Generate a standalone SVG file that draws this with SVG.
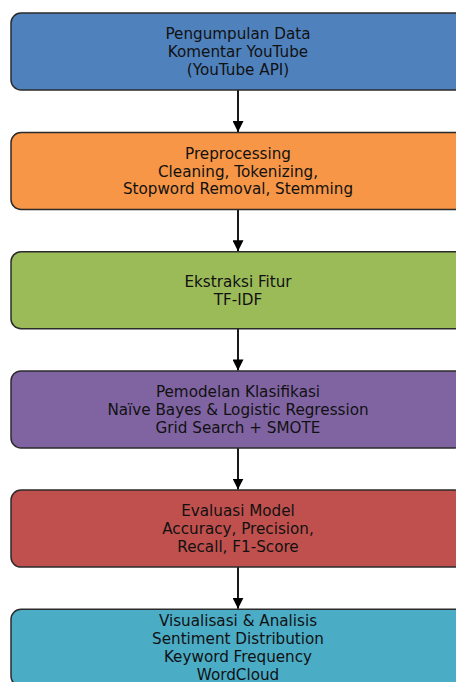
<svg xmlns="http://www.w3.org/2000/svg" width="456" height="682" viewBox="0 0 456 682">
<style>
.box{stroke:#2b2b2b;stroke-width:1.5}
.t{font-family:"DejaVu Sans",sans-serif;font-size:15.2px;fill:#111;text-anchor:middle}
.c{stroke:#000;stroke-width:1.8;fill:none}
</style>
<defs>
<marker id="ah" markerUnits="userSpaceOnUse" markerWidth="12" markerHeight="11" refX="11" refY="5.5" orient="auto">
<path d="M0,0 L11,5.5 L0,11 Z" fill="#000"/>
</marker>
</defs>
<rect width="456" height="682" fill="#fff"/>
<g id="connectors">
<line class="c" x1="238" y1="90" x2="238" y2="132" marker-end="url(#ah)"/>
<line class="c" x1="238" y1="209.5" x2="238" y2="251.2" marker-end="url(#ah)"/>
<line class="c" x1="238" y1="328.7" x2="238" y2="370.4" marker-end="url(#ah)"/>
<line class="c" x1="238" y1="447.9" x2="238" y2="489.6" marker-end="url(#ah)"/>
<line class="c" x1="238" y1="567.1" x2="238" y2="608.8" marker-end="url(#ah)"/>
</g>
<g id="n1">
<rect class="box" x="11" y="13" width="454" height="77" rx="10" fill="#4F81BD"/>
<text class="t" x="238" y="39.3">Pengumpulan Data</text>
<text class="t" x="238" y="57">Komentar YouTube</text>
<text class="t" x="238" y="74.8">(YouTube API)</text>
</g>
<g id="n2">
<rect class="box" x="11" y="132.5" width="454" height="77" rx="10" fill="#F79646"/>
<text class="t" x="238" y="158.7">Preprocessing</text>
<text class="t" x="238" y="176.5">Cleaning, Tokenizing,</text>
<text class="t" x="238" y="194.3">Stopword Removal, Stemming</text>
</g>
<g id="n3">
<rect class="box" x="11" y="251.7" width="454" height="77" rx="10" fill="#9BBB59"/>
<text class="t" x="238" y="286.8">Ekstraksi Fitur</text>
<text class="t" x="238" y="304.6">TF-IDF</text>
</g>
<g id="n4">
<rect class="box" x="11" y="370.9" width="454" height="77" rx="10" fill="#8064A2"/>
<text class="t" x="238" y="397.1">Pemodelan Klasifikasi</text>
<text class="t" x="238" y="414.9">Naïve Bayes &amp; Logistic Regression</text>
<text class="t" x="238" y="432.7">Grid Search + SMOTE</text>
</g>
<g id="n5">
<rect class="box" x="11" y="490.1" width="454" height="77" rx="10" fill="#C0504D"/>
<text class="t" x="238" y="516.3">Evaluasi Model</text>
<text class="t" x="238" y="534.1">Accuracy, Precision,</text>
<text class="t" x="238" y="551.9">Recall, F1-Score</text>
</g>
<g id="n6">
<rect class="box" x="11" y="609.3" width="454" height="77" rx="10" fill="#4BACC6"/>
<text class="t" x="238" y="626.2">Visualisasi &amp; Analisis</text>
<text class="t" x="238" y="644">Sentiment Distribution</text>
<text class="t" x="238" y="661.8">Keyword Frequency</text>
<text class="t" x="238" y="679.6">WordCloud</text>
</g>
</svg>
